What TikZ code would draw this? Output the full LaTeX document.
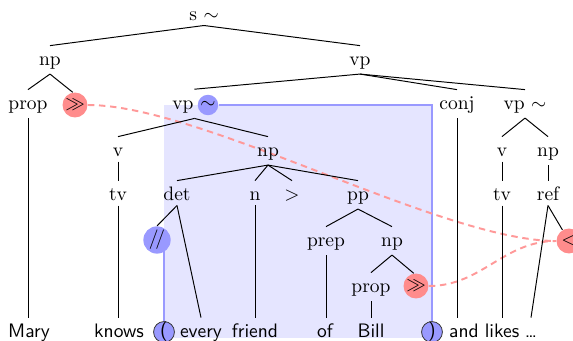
\documentclass[tikz,border=0pt]{standalone}
\usetikzlibrary{calc,backgrounds,fit}
\begin{document}
\begin{tikzpicture}[x=0.5128pt,y=-0.5128pt]
\tikzset{
  lab/.style={anchor=base, inner xsep=1pt, inner ysep=2pt, text height=8.25pt},
  word/.style={lab, font=\sffamily},
  edge/.style={line width=0.5pt},
  redmark/.style={circle, fill=red!45, inner sep=0pt, minimum size=12.8pt},
  bluemark/.style={circle, fill=blue!40, inner sep=0pt},
  bracketmark/.style={circle, draw=black!80, line width=0.4pt, fill=blue!40, inner sep=0pt, minimum size=10.5pt, font=\sffamily},
  link/.style={red!40, line width=1pt, dash pattern=on 3.3pt off 2.4pt},
  scopeline/.style={blue!40, line width=1pt}
}
\useasboundingbox (0,0) rectangle (573,341);

% tree labels (placed by baseline)
\node[lab] (s)     at (204,21)  {s $\sim$};
\node[lab] (np1)   at (50,66)   {np};
\node[lab] (vp1)   at (360,66)  {vp};
\node[lab] (prop1) at (28,110)  {prop};
\node[lab] (vpt)   at (183,110) {vp};
\node[lab] (conj)  at (457,110) {conj};
\node[lab] (vpr)   at (525,110) {vp $\sim$};
\node[lab] (v1)    at (118,157) {v};
\node[lab] (np2)   at (268,157) {np};
\node[lab] (v2)    at (502,157) {v};
\node[lab] (np3)   at (548,157) {np};
\node[lab] (tv1)   at (118,201) {tv};
\node[lab] (det)   at (177,201) {det};
\node[lab] (n)     at (255,201) {n};
\node[lab] (gt)    at (292,201) {$>$};
\node[lab] (pp)    at (358,201) {pp};
\node[lab] (tv2)   at (502,201) {tv};
\node[lab] (ref)   at (548,201) {ref};
\node[lab] (prep)  at (326,247) {prep};
\node[lab] (np4)   at (392,247) {np};
\node[lab] (prop2) at (371,293) {prop};

% sentence
\node[word] (Mary)   at (29,338)  {Mary};
\node[word] (knows)  at (119,338) {knows};
\node[word] (every)  at (201,338) {every};
\node[word] (friend) at (255,338) {friend};
\node[word] (of)     at (325,338) {of};
\node[word] (Bill)   at (371,338) {Bill};
\node[word] (and)    at (464,338) {and};
\node[word] (likes)  at (502,338) {likes};
\node[word] (dots)   at (531,338) {\dots};

% markers
\node[bluemark, minimum size=10.5pt] (tilde) at (208,105) {$\sim$};
\node[bluemark, minimum size=14pt] (slash) at (157,240) {$/\!/$};
\node[bracketmark] (open)  at (164,332) {(};
\node[bracketmark] (close) at (432,332) {)};
\node[redmark] (gg1) at (75,105)  {$\gg$};
\node[redmark] (gg2) at (416,286) {$\gg$};
\node[redmark] (lt)  at (569,241) {$<$};

% the marked vp as one tree node
\node[fit=(vpt)(tilde), inner sep=0pt] (vpb) {};

\begin{scope}[on background layer]
  % shaded scope
  \fill[blue!10] (open.center |- tilde.center) rectangle (close.center |- Mary.base);

  % scope boundary
  \draw[scopeline] (tilde) -| (close);
  \draw[scopeline] (open.north) -- (open.north |- slash.center);

  % anaphoric links
  \draw[link] (gg1.east) to[out=0,in=180,looseness=0.6] (lt.west);
  \draw[link] (gg2.east) to[out=0,in=180] (lt.west);

  % tree edges
  \draw[edge] (s.south) -- (np1.north);
  \draw[edge] (s.south) -- (vp1.north);
  \draw[edge] (np1.south) -- (prop1.north);
  \draw[edge] (np1.south) -- (gg1.100);
  \draw[edge] (vp1.south) -- (vpb.north);
  \draw[edge] (vp1.south) -- (conj.north);
  \draw[edge] (vp1.south) -- (vpr.north);
  \draw[edge] (prop1.south) -- (prop1.south |- Mary.north);
  \draw[edge] (vpb.south) -- (v1.north);
  \draw[edge] (vpb.south) -- (np2.north);
  \draw[edge] (v1.south) -- (tv1.north);
  \draw[edge] (tv1.south) -- (tv1.south |- knows.north);
  \draw[edge] (np2.south) -- (det.north);
  \draw[edge] (np2.south) -- (n.north);
  \draw[edge] (np2.south) -- (gt.north);
  \draw[edge] (np2.south) -- (pp.north);
  \draw[edge] (det.south) -- (slash.north);
  \draw[edge] (det.south) -- (every.north);
  \draw[edge] (n.south) -- (n.south |- friend.north);
  \draw[edge] (pp.south) -- (prep.north);
  \draw[edge] (pp.south) -- (np4.north);
  \draw[edge] (prep.south) -- (prep.south |- of.north);
  \draw[edge] (np4.south) -- (prop2.north);
  \draw[edge] (np4.south) -- (gg2.100);
  \draw[edge] (prop2.south) -- (prop2.south |- Bill.north);
  \draw[edge] (conj.south) -- (conj.south |- and.north);
  \draw[edge] (vpr.south) -- (v2.north);
  \draw[edge] (vpr.south) -- (np3.north);
  \draw[edge] (v2.south) -- (tv2.north);
  \draw[edge] (np3.south) -- (ref.north);
  \draw[edge] (tv2.south) -- (tv2.south |- likes.north);
  \draw[edge] (ref.south) -- (lt);
  \draw[edge] (ref.south) -- (dots.north);
\end{scope}
\end{tikzpicture}
\end{document}
